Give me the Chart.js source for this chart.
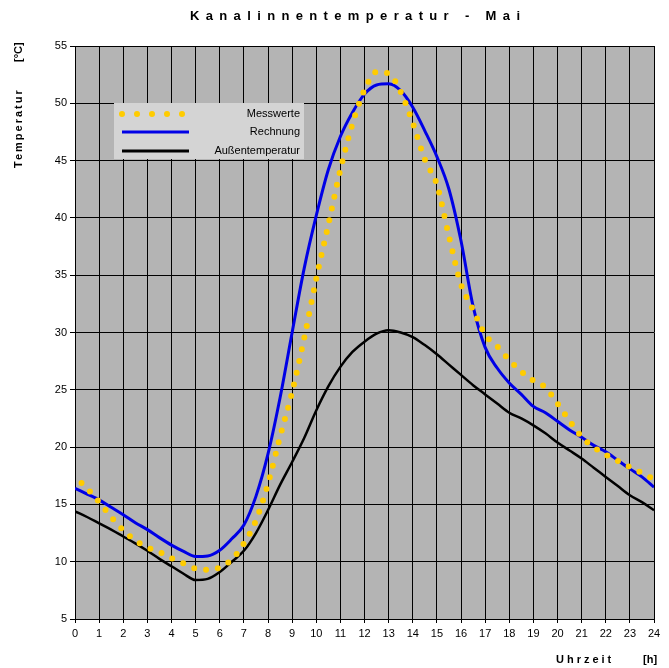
<!DOCTYPE html>
<html>
<head>
<meta charset="utf-8">
<script src="https://cdn.jsdelivr.net/npm/chart.js@4.4.1/dist/chart.umd.min.js"></script>
<style>
	html, body { margin: 0; padding: 0; background: #fff; }
	#wrap { width: 669px; height: 668px; }
</style>
</head>
<body>
<div id="wrap"><canvas id="chart" width="669" height="668"></canvas></div>
<script>
// Uhrzeit [h], half-hour steps
let hours = [0, 0.5, 1, 1.5, 2, 2.5, 3, 3.5, 4, 4.5, 5, 5.5, 6, 6.5, 7, 7.5, 8, 8.5, 9, 9.5, 10, 10.5, 11, 11.5, 12,
	12.5, 13, 13.5, 14, 14.5, 15, 15.5, 16, 16.5, 17, 17.5, 18, 18.5, 19, 19.5, 20, 20.5, 21, 21.5, 22, 22.5, 23, 23.5, 24];

let messwerte = [17.4, 16.4, 15.2, 13.9, 12.75, 11.85, 11.25, 10.85, 10.3, 9.85, 9.4, 9.3, 9.5, 10.2, 11.6, 13.6, 16.8,
	20.9, 24.8, 29.5, 34.7, 39.4, 44.2, 48.2, 51.15, 52.75, 52.6, 51.0, 48.3, 45.1, 42.9, 38.4, 34.2, 32.0, 29.8, 28.8,
	27.6, 26.6, 25.8, 25.2, 23.8, 22.3, 20.9, 20.0, 19.35, 18.8, 18.25, 17.75, 17.2];

let rechnung = [16.4, 15.9, 15.4, 14.75, 14.1, 13.4, 12.8, 12.1, 11.45, 10.9, 10.45, 10.5, 11.0, 12.0, 13.2, 15.7, 19.4,
	24.3, 30.0, 35.6, 40.2, 44.2, 47.1, 49.2, 50.8, 51.6, 51.7, 51.1, 49.65, 47.6, 45.35, 42.5, 38.0, 32.3, 28.7, 26.9,
	25.6, 24.6, 23.55, 23.0, 22.25, 21.5, 20.85, 20.15, 19.6, 18.85, 18.1, 17.4, 16.5];

let aussen = [14.4, 13.9, 13.35, 12.8, 12.2, 11.6, 10.95, 10.25, 9.6, 8.95, 8.4, 8.5, 9.1, 10.0, 10.95, 12.5, 14.5,
	16.7, 18.7, 20.8, 23.2, 25.3, 27.0, 28.3, 29.2, 29.9, 30.2, 30.0, 29.6, 28.9, 28.1, 27.2, 26.3, 25.4, 24.6, 23.8,
	23.0, 22.5, 21.9, 21.2, 20.4, 19.7, 19.0, 18.2, 17.4, 16.6, 15.8, 15.2, 14.5];

let seriesNames = ['Messwerte', 'Rechnung', 'Außentemperatur'];
let seriesColors = ['#ffcc00', '#0000e6', '#000000'];

let chartTitle = 'Kanalinnentemperatur - Mai';
let yTitle = ['Temperatur', '[°C]'];
let xTitle = ['Uhrzeit', '[h]'];

function toPoints(vals) {
	return hours.map(function (h, i) { return { x: h, y: vals[i] }; });
}

let fontFamily = '"Liberation Sans", Arial, sans-serif';

// gray plot background
let plotBackground = {
	id: 'plotBackground',
	beforeDraw: function (chart) {
		let a = chart.chartArea;
		let ctx = chart.ctx;
		ctx.save();
		ctx.fillStyle = '#b4b4b4';
		ctx.fillRect(a.left, a.top, a.right - a.left, a.bottom - a.top);
		ctx.restore();
	}
};

// titles and legend box like the Excel original
let decorations = {
	id: 'decorations',
	afterDraw: function (chart) {
		let ctx = chart.ctx;
		ctx.save();
		ctx.fillStyle = '#000';
		ctx.textBaseline = 'middle';

		// main title, spread out
		ctx.font = 'bold 13px ' + fontFamily;
		ctx.letterSpacing = '0px';
		let plain = ctx.measureText(chartTitle).width;
		let spacing = (330 - plain) / (chartTitle.length - 1);
		ctx.letterSpacing = spacing + 'px';
		ctx.textAlign = 'left';
		ctx.fillText(chartTitle, 190, 16);

		// y axis title
		ctx.save();
		ctx.translate(19, 0);
		ctx.rotate(-Math.PI / 2);
		ctx.font = 'bold 11px ' + fontFamily;
		ctx.letterSpacing = '2px';
		ctx.textAlign = 'left';
		ctx.fillText(yTitle[0], -168, 0);
		ctx.letterSpacing = '0px';
		ctx.fillText(yTitle[1], -62, 0);
		ctx.restore();

		// x axis title
		ctx.font = 'bold 11px ' + fontFamily;
		ctx.letterSpacing = '3px';
		ctx.textAlign = 'left';
		ctx.fillText(xTitle[0], 556, 660);
		ctx.letterSpacing = '0px';
		ctx.fillText(xTitle[1], 643, 660);

		// legend
		ctx.fillStyle = '#d4d4d4';
		ctx.fillRect(114, 103, 190, 56);
		let rowsY = [114, 132, 151];
		ctx.font = '11px ' + fontFamily;
		ctx.textAlign = 'right';
		for (let i = 0; i < seriesNames.length; i++) {
			let y = rowsY[i];
			ctx.beginPath();
			ctx.strokeStyle = seriesColors[i];
			if (i === 0) {
				ctx.lineWidth = 6;
				ctx.lineCap = 'round';
				ctx.setLineDash([0, 15]);
			} else {
				ctx.lineWidth = 3;
				ctx.lineCap = 'butt';
				ctx.setLineDash([]);
			}
			ctx.moveTo(122, y);
			ctx.lineTo(i === 0 ? 183 : 189, y);
			ctx.stroke();
			ctx.setLineDash([]);
			ctx.fillStyle = '#000';
			ctx.fillText(seriesNames[i], 300, y);
		}
		ctx.restore();
	}
};

new Chart(document.getElementById('chart'), {
	type: 'line',
	data: {
		datasets: [{
			label: seriesNames[0],
			data: toPoints(messwerte),
			borderColor: seriesColors[0],
			borderWidth: 6,
			borderDash: [0, 12],
			borderDashOffset: 3,
			borderCapStyle: 'round',
			pointRadius: 0,
			cubicInterpolationMode: 'monotone',
			fill: false
		}, {
			label: seriesNames[1],
			data: toPoints(rechnung),
			borderColor: seriesColors[1],
			borderWidth: 3,
			pointRadius: 0,
			cubicInterpolationMode: 'monotone',
			fill: false
		}, {
			label: seriesNames[2],
			data: toPoints(aussen),
			borderColor: seriesColors[2],
			borderWidth: 2.5,
			pointRadius: 0,
			cubicInterpolationMode: 'monotone',
			fill: false
		}]
	},
	options: {
		responsive: false,
		animation: false,
		devicePixelRatio: 1,
		layout: {
			padding: { top: 46, right: 15, left: 0, bottom: 0 }
		},
		plugins: {
			legend: { display: false },
			title: { display: false },
			tooltip: { enabled: false }
		},
		scales: {
			x: {
				type: 'linear',
				min: 0,
				max: 24,
				afterFit: function (scale) { scale.height = 49; },
				ticks: {
					stepSize: 1,
					color: '#000',
					padding: 4,
					maxRotation: 0,
					autoSkip: false,
					font: { family: fontFamily, size: 11 }
				},
				grid: {
					color: '#000',
					lineWidth: 1,
					tickLength: 4,
					drawTicks: true
				},
				border: { color: '#000', width: 1 }
			},
			y: {
				min: 5,
				max: 55,
				afterFit: function (scale) { scale.width = 75; },
				ticks: {
					stepSize: 5,
					color: '#000',
					padding: 3,
					font: { family: fontFamily, size: 11 }
				},
				grid: {
					color: '#000',
					lineWidth: 1,
					tickLength: 5
				},
				border: { color: '#000', width: 1 }
			}
		}
	},
	plugins: [plotBackground, decorations]
});
</script>
</body>
</html>
